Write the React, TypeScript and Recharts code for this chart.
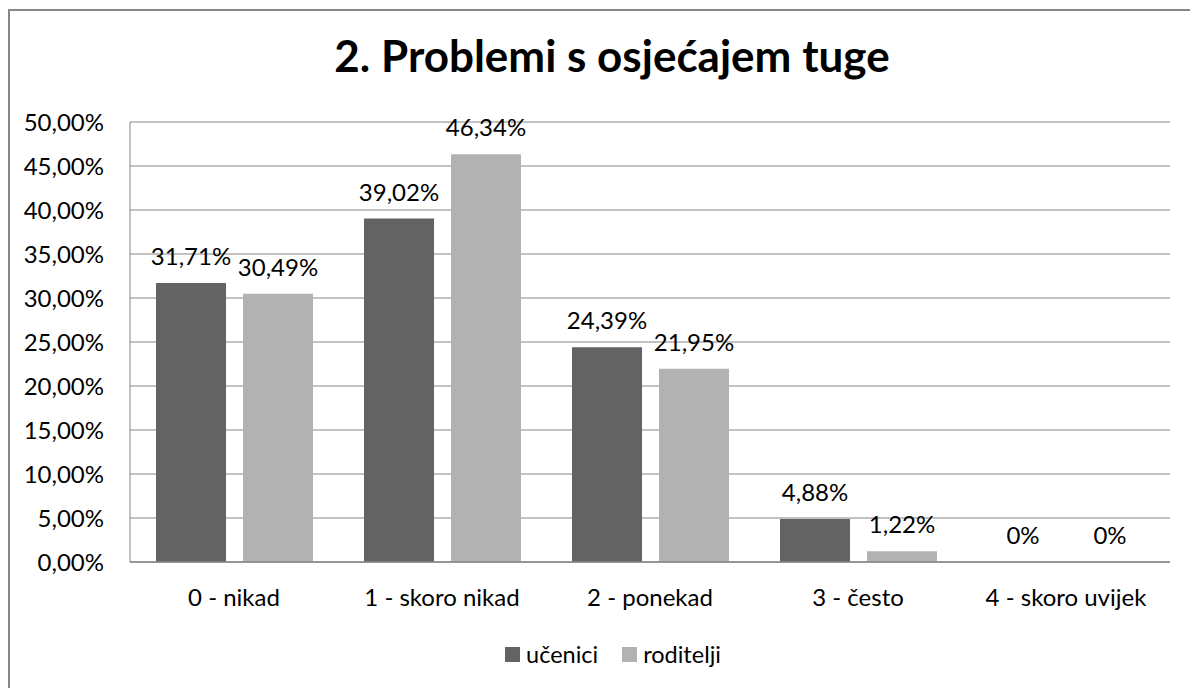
import React from 'react';
import { BarChart, Bar, XAxis, YAxis, CartesianGrid, Legend, LabelList } from 'recharts';

const categories = ['0 - nikad', '1 - skoro nikad', '2 - ponekad', '3 - često', '4 - skoro uvijek'];
const ucenici = [31.71, 39.02, 24.39, 4.88, 0];
const roditelji = [30.49, 46.34, 21.95, 1.22, 0];
const yTicks = [0, 5, 10, 15, 20, 25, 30, 35, 40, 45, 50];

const data = categories.map((name, i) => ({ name, ucenici: ucenici[i], roditelji: roditelji[i] }));

const FONT = 'Lato, "Open Sans", sans-serif';
const DARK = '#636363';
const LIGHT = '#B2B2B2';
const GRID = '#868686';

const fmtTick = (v: number) => `${v.toFixed(2).replace('.', ',')}%`;
const fmtLabel = (v: any) => (Number(v) === 0 ? '0%' : `${Number(v).toFixed(2).replace('.', ',')}%`);

// zero bars get a hairline so that their "0%" label still shows
const minSize = (v: any) => (Number(v) === 0 ? 0.01 : 0);

// draw value above the bar, also for zero-height bars
const renderValue = (props: any) => {
  const { x, y, width, height, value } = props;
  const top = Math.min(Number(y), Number(y) + Number(height));
  return (
    <text
      x={Number(x) + Number(width) / 2}
      y={top - 18}
      textAnchor="middle"
      fontSize={24}
      fontFamily={FONT}
      fill="#000"
    >
      {fmtLabel(value)}
    </text>
  );
};

const LegendContent = () => (
  <div style={{ display: 'flex', justifyContent: 'center', alignItems: 'center', fontFamily: FONT, fontSize: 23.5, color: '#000', height: 26 }}>
    {[{ label: 'učenici', color: DARK }, { label: 'roditelji', color: LIGHT }].map((it, i) => (
      <span key={it.label} style={{ display: 'flex', alignItems: 'center', marginLeft: i ? 24 : 0 }}>
        <span style={{ width: 15, height: 15, background: it.color, marginRight: 6, display: 'inline-block' }} />
        {it.label}
      </span>
    ))}
  </div>
);

const App: React.FC = () => {
  return (
    <div style={{ position: 'relative', width: 1206, height: 677, marginTop: 1, borderTop: `2px solid ${GRID}`, borderLeft: `2px solid ${GRID}`, background: '#fff' }}>
      <div style={{ position: 'absolute', left: 0, width: 1204, top: 22, textAlign: 'center', fontFamily: FONT, fontWeight: 700, fontSize: 44, lineHeight: 1, color: '#000' }}>
        2. Problemi s osjećajem tuge
      </div>
      <BarChart
        width={1204}
        height={677}
        data={data}
        margin={{ top: 111, right: 44, left: 0, bottom: 40 }}
        barCategoryGap="12.5%"
        barGap={17}
      >
        <CartesianGrid stroke={GRID} vertical={false} />
        <XAxis
          dataKey="name"
          tick={{ fontSize: 24, fill: '#000', fontFamily: FONT }}
          axisLine={{ stroke: GRID, strokeWidth: 1.5 }}
          tickLine={false}
          tickSize={6}
          tickMargin={21}
          height={60}
          interval={0}
        />
        <YAxis
          domain={[0, 50]}
          ticks={yTicks}
          tickFormatter={fmtTick}
          tick={{ fontSize: 24, fill: '#000', fontFamily: FONT }}
          axisLine={{ stroke: GRID }}
          tickLine={false}
          tickSize={6}
          tickMargin={20}
          width={120}
        />
        <Legend verticalAlign="bottom" content={<LegendContent />} wrapperStyle={{ bottom: 21, left: 0, width: 1206 }} />
        <Bar dataKey="ucenici" name="učenici" fill={DARK} minPointSize={minSize} isAnimationActive={false}>
          <LabelList dataKey="ucenici" content={renderValue} />
        </Bar>
        <Bar dataKey="roditelji" name="roditelji" fill={LIGHT} minPointSize={minSize} isAnimationActive={false}>
          <LabelList dataKey="roditelji" content={renderValue} />
        </Bar>
      </BarChart>
    </div>
  );
};

export default App;
